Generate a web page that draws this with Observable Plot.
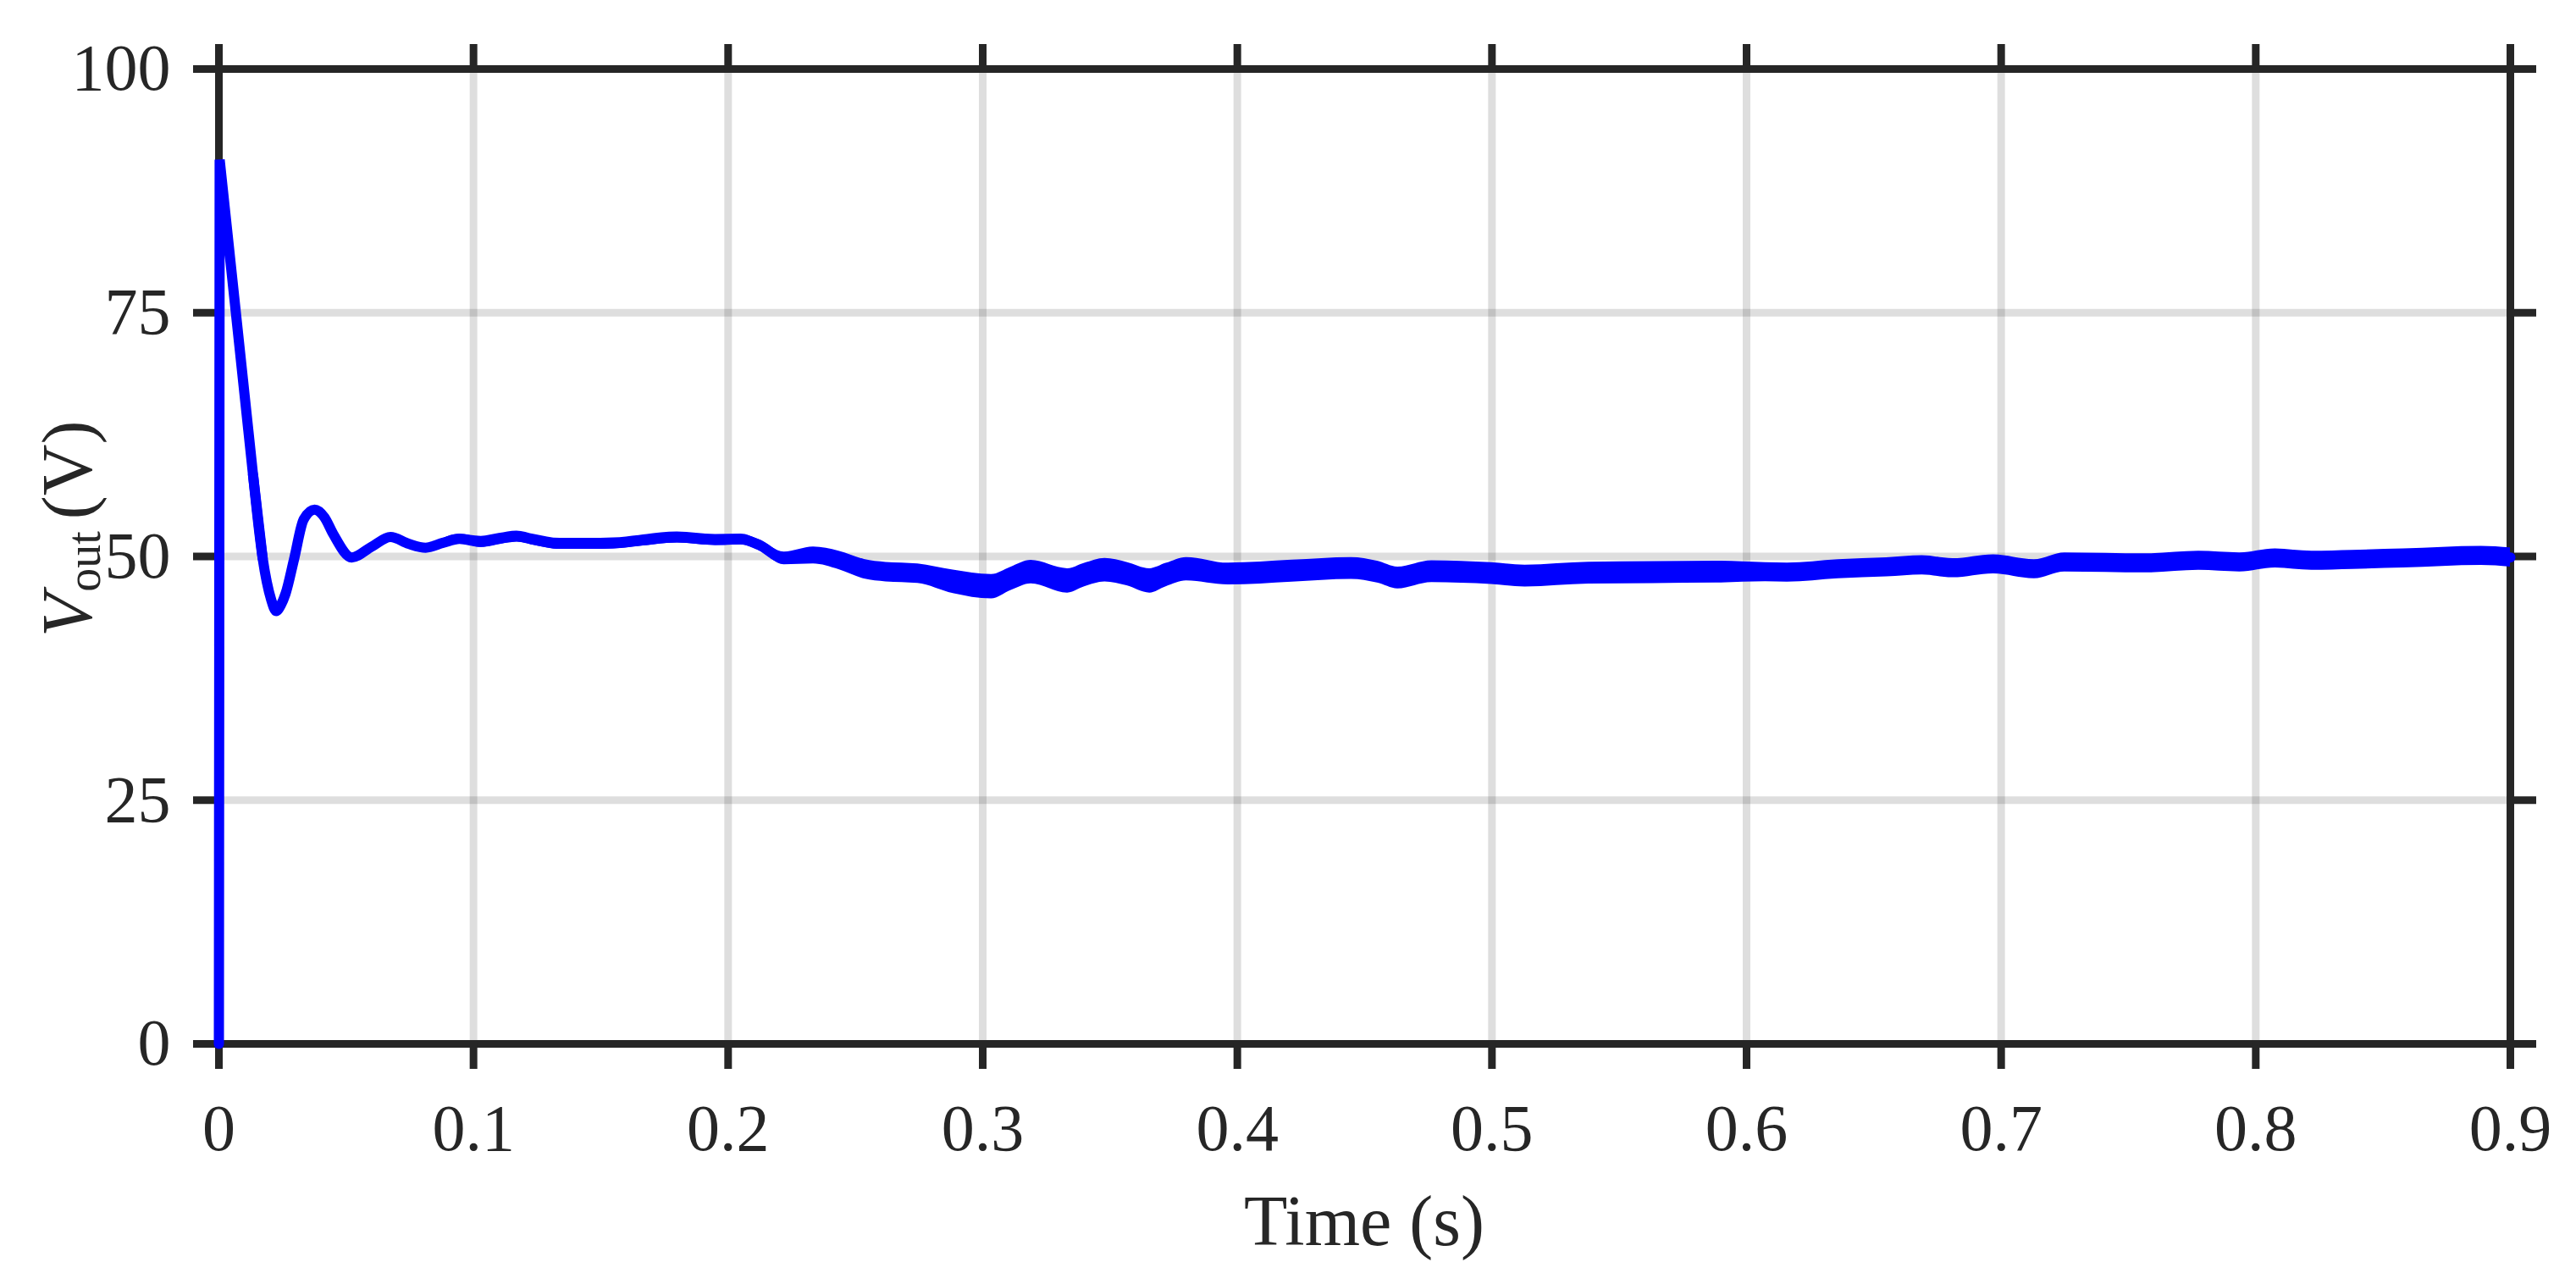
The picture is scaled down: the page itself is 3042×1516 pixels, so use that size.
<!DOCTYPE html>
<html>
<head>
<meta charset="utf-8">
<script src="https://cdn.jsdelivr.net/npm/d3@7"></script>
<script src="https://cdn.jsdelivr.net/npm/@observablehq/plot@0.6"></script>
<style>
  html, body { margin: 0; padding: 0; background: #ffffff; }
  #chart { width: 3042px; height: 1516px; }
</style>
</head>
<body>
<div id="chart"></div>
<script>
// Time samples (s)
const time = [0, 0.0003, 0.0134, 0.0172, 0.0205, 0.0225, 0.0243, 0.0262, 0.0295,
  0.0333, 0.0376, 0.0415, 0.0449, 0.0522, 0.060, 0.0674, 0.0745, 0.0812, 0.088,
  0.0945, 0.103, 0.110, 0.117, 0.124, 0.134, 0.145, 0.155, 0.165, 0.180,
  0.195, 0.205, 0.212, 0.222, 0.2335, 0.2435, 0.2535, 0.262, 0.2745, 0.2884,
  0.3034, 0.311, 0.319, 0.3333, 0.340, 0.348, 0.3566, 0.3656, 0.372, 0.380,
  0.3965, 0.4215, 0.4448, 0.455, 0.463, 0.4764, 0.4997, 0.513, 0.538, 0.563,
  0.588, 0.6074, 0.616, 0.636, 0.655, 0.669, 0.681, 0.697, 0.713, 0.725,
  0.757, 0.7776, 0.7937, 0.8077, 0.822, 0.838, 0.858, 0.8886, 0.9];

// Output voltage (V), centre of the trace
const vout = [0, 90.7, 58.4, 49.8, 45.6, 44.4, 45.0, 46.2, 49.7,
  53.8, 54.8, 54.0, 52.3, 49.9, 51.0, 52.0, 51.3, 50.9, 51.4,
  51.8, 51.5, 51.8, 52.05, 51.7, 51.3, 51.3, 51.35, 51.6, 51.95,
  51.7, 51.75, 51.2, 49.8, 50.1, 49.6, 48.7, 48.4, 48.25, 47.4,
  46.9, 47.7, 48.4, 47.5, 48.1, 48.6, 48.2, 47.5, 48.1, 48.7,
  48.2, 48.5, 48.77, 48.4, 47.8, 48.45, 48.25, 48.0, 48.3, 48.35,
  48.4, 48.4, 48.35, 48.7, 48.9, 49.1, 48.8, 49.2, 48.7, 49.4,
  49.3, 49.56, 49.4, 49.8, 49.56, 49.66, 49.8, 50.06, 49.9];

// Switching ripple half-amplitude (V): half the thickness of the trace band
const ripple = [0, 0, 0, 0, 0, 0, 0, 0, 0,
  0, 0, 0, 0, 0, 0, 0, 0, 0, 0.45,
  0.5, 0.56, 0.56, 0.56, 0.56, 0.56, 0.56, 0.56, 0.56, 0.56,
  0.56, 0.56, 0.56, 0.65, 0.87, 0.95, 1.0, 1.0, 1.0, 1.2,
  1.25, 1.2, 1.2, 1.25, 1.2, 1.2, 1.2, 1.25, 1.2, 1.2,
  1.12, 1.12, 1.12, 1.12, 1.12, 1.12, 1.12, 1.12, 1.12, 1.12,
  1.12, 0.98, 0.98, 0.98, 0.98, 0.98, 0.98, 0.98, 0.98, 0.98,
  0.98, 0.98, 0.98, 0.98, 0.98, 0.98, 0.98, 0.98, 0.98];

const xTicks = [0, 0.1, 0.2, 0.3, 0.4, 0.5, 0.6, 0.7, 0.8, 0.9];
const yTicks = [0, 25, 50, 75, 100];

const data = time.map((t, i) => ({t, v: vout[i], lo: vout[i] - ripple[i], hi: vout[i] + ripple[i]}));
// start-up: vertical rise then straight discharge (drawn linear); rest smooth
const startUp = data.slice(0, 4);
const settling = data.slice(2);

const ink = "#262626";
const blue = "#0000ff";
const fmt = d3.format("~g");

const chart = Plot.plot({
  width: 3042,
  height: 1516,
  marginLeft: 258,
  marginRight: 78,
  marginTop: 81,
  marginBottom: 284,
  style: {fontFamily: "'Liberation Serif', 'DejaVu Serif', serif", color: ink, background: "#ffffff", overflow: "visible"},
  x: {domain: [0, 0.9]},
  y: {domain: [0, 100]},
  marks: [
    Plot.gridX(xTicks, {stroke: "black", strokeOpacity: 0.13, strokeWidth: 9}),
    Plot.gridY(yTicks, {stroke: "black", strokeOpacity: 0.13, strokeWidth: 9}),
    Plot.frame({stroke: ink, strokeWidth: 9}),
    Plot.axisX({anchor: "bottom", ticks: xTicks, tickSize: 30, tickPadding: 40, strokeWidth: 9, stroke: ink, fontSize: 78, tickFormat: fmt, label: null}),
    Plot.axisX({anchor: "top", ticks: xTicks, tickSize: 30, strokeWidth: 9, stroke: ink, tickFormat: () => "", label: null}),
    Plot.axisY({anchor: "left", ticks: yTicks, tickSize: 30, tickPadding: 27, strokeWidth: 9, stroke: ink, fontSize: 78, tickFormat: fmt, label: null}),
    Plot.axisY({anchor: "right", ticks: yTicks, tickSize: 30, strokeWidth: 9, stroke: ink, tickFormat: () => "", label: null}),
    Plot.areaY(settling, {x: "t", y1: "lo", y2: "hi", fill: blue, curve: "monotone-x"}),
    Plot.line(startUp, {x: "t", y: "v", stroke: blue, strokeWidth: 12, strokeLinejoin: "miter", curve: "linear"}),
    Plot.line(settling, {x: "t", y: "v", stroke: blue, strokeWidth: 12, curve: "monotone-x"})
  ]
});

document.getElementById("chart").appendChild(chart);

const svg = d3.select(chart);
// x axis title
svg.append("text")
  .attr("x", (258 + 2964) / 2)
  .attr("y", 1470)
  .attr("text-anchor", "middle")
  .attr("font-size", 84)
  .attr("fill", ink)
  .text("Time (s)");

// y axis title: V_out (V)
const yl = svg.append("text")
  .attr("transform", "translate(108,752) rotate(-90)")
  .attr("text-anchor", "start")
  .attr("font-size", 84)
  .attr("fill", ink);
yl.append("tspan").attr("font-style", "italic").text("V");
yl.append("tspan").attr("font-size", 56).attr("dy", 10).attr("dx", 2).text("out");
yl.append("tspan").attr("dy", -10).attr("dx", 14).text("(V)");
</script>
</body>
</html>
